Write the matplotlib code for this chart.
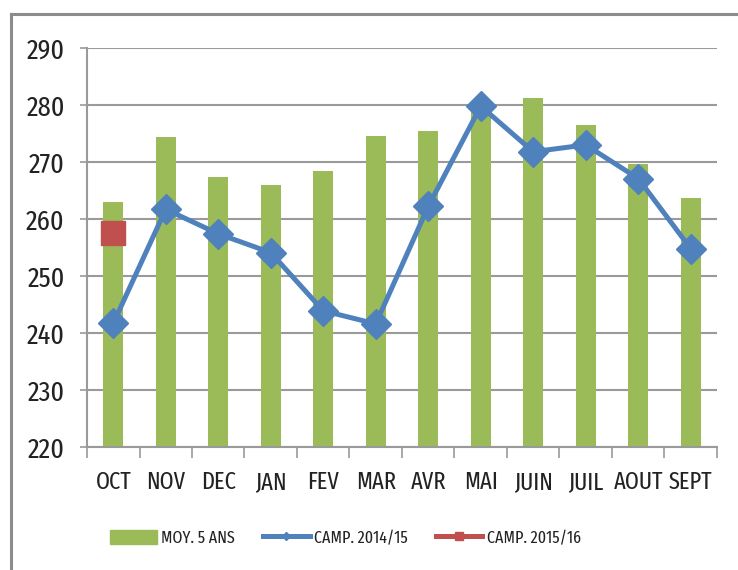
import numpy as np
import matplotlib
matplotlib.use('Agg')
import matplotlib.pyplot as plt
from matplotlib.lines import Line2D
from matplotlib.patches import Patch

plt.rcParams['font.family'] = ['Fira Sans Extra Condensed', 'Carlito', 'DejaVu Sans']

mois = ['OCT', 'NOV', 'DEC', 'JAN', 'FEV', 'MAR', 'AVR', 'MAI', 'JUIN', 'JUIL', 'AOUT', 'SEPT']
moy_5ans = [263.0, 274.4, 267.4, 265.9, 268.5, 274.6, 275.4, 279.5, 281.3, 276.5, 269.6, 263.7]
camp_1415 = [241.7, 261.7, 257.4, 254.1, 243.9, 241.6, 262.2, 279.8, 271.8, 273.0, 267.1, 254.8]
camp_1516 = [257.6]

vert = '#9BBB59'
bleu = '#4F81BD'
rouge = '#C0504D'
gris = '#9a9a9a'

fig = plt.figure(figsize=(7.38, 5.70), dpi=100)
ax = fig.add_axes([0.1179, 0.2158, 0.8536, 0.7])

x = np.arange(len(mois))
ax.bar(x, np.array(moy_5ans) - 220, bottom=220, width=0.38, color=vert, zorder=2)
ax.plot(x, camp_1415, color=bleu, lw=3.6, marker='D', ms=15, zorder=3)
ax.plot(x[:len(camp_1516)], camp_1516, color=rouge, lw=3.6, marker='s', ms=17, zorder=4)

ax.set_xlim(-0.5, 11.5)
ax.set_ylim(220, 290)
ax.set_yticks(np.arange(220, 291, 10))
ax.yaxis.grid(True, color=gris, lw=1.5)
ax.set_axisbelow(True)

ax.set_xticks(x)
ax.set_xticklabels(mois)
ax.set_xticks(np.arange(-0.5, 12, 1), minor=True)
ax.tick_params(axis='x', which='major', length=0, pad=17, labelsize=17.5, labelcolor='#222222')
ax.tick_params(axis='x', which='minor', length=8, width=1.2, color=gris)
ax.tick_params(axis='y', length=5, width=1.2, color=gris, pad=11, labelsize=20.5, labelcolor='#222222')

for s in ['top', 'right']:
    ax.spines[s].set_visible(False)
for s in ['left', 'bottom']:
    ax.spines[s].set_color(gris)
    ax.spines[s].set_linewidth(1.5)

handles = [
    Patch(color=vert),
    Line2D([], [], color=bleu, lw=3.6, marker='D', ms=4),
    Line2D([], [], color=rouge, lw=3.6, marker='s', ms=6),
]
labels = ['MOY. 5 ANS', 'CAMP. 2014/15', 'CAMP. 2015/16']
fig.legend(handles, labels, loc='center', bbox_to_anchor=(0.468, 0.056), ncol=3,
           frameon=False, fontsize=12.5, handlelength=2.7, handleheight=0.85,
           columnspacing=1.6, handletextpad=0.25, labelcolor='#222222')

# cadre gris autour du graphique
fig.add_artist(Line2D([11 / 738, 1.0], [1 - 14 / 570, 1 - 14 / 570], color='#8c8c8c', lw=2.2))
fig.add_artist(Line2D([11 / 738, 11 / 738], [1 - 14 / 570, 0.0], color='#8c8c8c', lw=2.2))

fig.savefig('out.png', dpi=100)
